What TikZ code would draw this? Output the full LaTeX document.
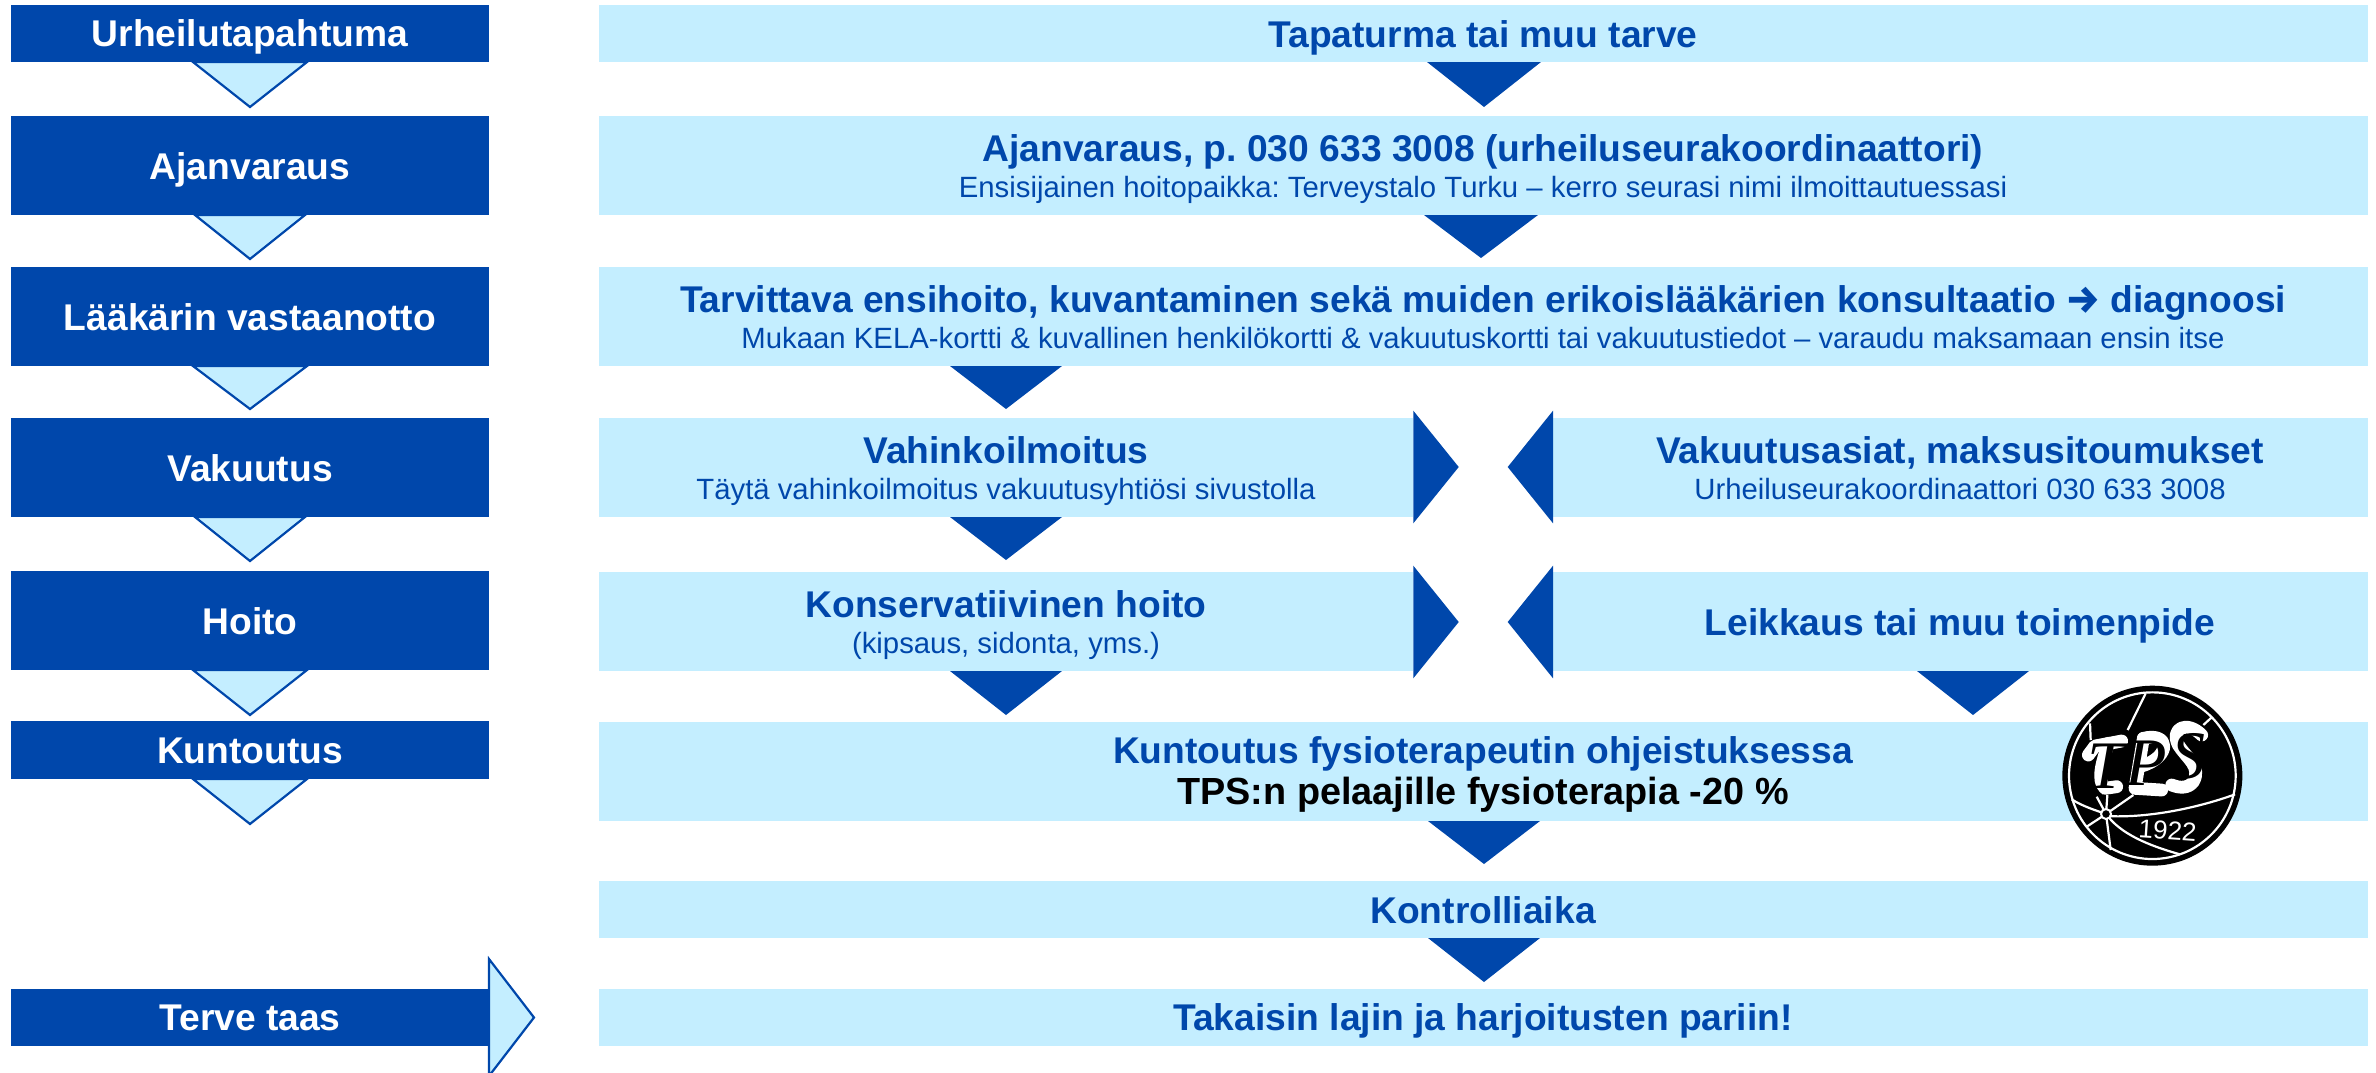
\documentclass[tikz,border=0pt]{standalone}
\usepackage{fontspec}
\setmainfont{Liberation Sans}
\newfontfamily\logothin{Liberation Serif Italic}
\newfontfamily\arrowfont{Fira Sans Bold}
\definecolor{tdark}{HTML}{0047AB}
\definecolor{tlight}{HTML}{C4EEFF}
\newcommand{\bandbox}[6]{\node[#6] (#1) at ({(#2+#4)/2},{(#3+#5)/2}) [minimum width={(#4-#2)*0.5pt},minimum height={(#5-#3)*0.5pt}] {};}
\newcommand{\arrowdown}[5]{\path[#5] (#1-#3,#2) -- (#1+#3,#2) -- (#1,#4) -- cycle;}
\tikzset{
  darkbox/.style={fill=tdark,draw=none,inner sep=0pt,outer sep=0pt},
  lightbox/.style={fill=tlight,draw=none,inner sep=0pt,outer sep=0pt},
  darktri/.style={fill=tdark},
  lighttri/.style={fill=tlight,draw=tdark,line width=1.1pt,line join=miter},
  lefttext/.style={anchor=base,inner sep=0pt,text=white,font=\fontsize{18.6}{22}\selectfont\bfseries},
  headtext/.style={anchor=base,inner sep=0pt,text=tdark,font=\fontsize{18.6}{22}\selectfont\bfseries},
  subtext/.style={anchor=base,inner sep=0pt,text=tdark,font=\fontsize{14.66}{16}\selectfont},
  blacktext/.style={anchor=base,inner sep=0pt,text=black,font=\fontsize{18.9}{22}\selectfont\bfseries},
  logoline/.style={white,line width=1.1pt},
  logoletter/.style={white,line width=6.4pt,line cap=round,line join=round},
  logotext/.style={text=black,font=\logothin\fontsize{34}{40}\selectfont,inner sep=0pt},
}
\frenchspacing
\begin{document}
\begin{tikzpicture}[x=0.5pt,y=-0.5pt]
\useasboundingbox (0,0) rectangle (2376,1072);
% left column arrows
\arrowdown{250}{62}{57}{107}{lighttri}
\arrowdown{250}{215}{55}{259}{lighttri}
\arrowdown{250}{366}{57}{409}{lighttri}
\arrowdown{250}{517}{55}{561}{lighttri}
\arrowdown{250}{670}{57}{715}{lighttri}
\arrowdown{250}{779}{57}{824}{lighttri}
% left column boxes
\bandbox{l1}{11}{5}{489}{62}{darkbox}
\bandbox{l2}{11}{116}{489}{215}{darkbox}
\bandbox{l3}{11}{267}{489}{366}{darkbox}
\bandbox{l4}{11}{418}{489}{517}{darkbox}
\bandbox{l5}{11}{571}{489}{670}{darkbox}
\bandbox{l6}{11}{721}{489}{779}{darkbox}
\bandbox{l7}{11}{989}{489}{1046}{darkbox}
\path[lighttri] (489,959) -- (534,1017.5) -- (489,1076) -- cycle;
\node[lefttext] (lt1) at (250,46.5) {Urheilutapahtuma};
\node[lefttext] (lt2) at (250,179) {Ajanvaraus};
\node[lefttext] (lt3) at (250,330.5) {Lääkärin vastaanotto};
\node[lefttext] (lt4) at (250,481) {Vakuutus};
\node[lefttext] (lt5) at (250,634) {Hoito};
\node[lefttext] (lt6) at (250,763) {Kuntoutus};
\node[lefttext] (lt7) at (250,1030.5) {Terve taas};
% right column bands
\bandbox{r1}{598.5}{5}{2368}{62}{lightbox}
\bandbox{r2}{598.5}{116}{2368}{215}{lightbox}
\bandbox{r3}{598.5}{267}{2368}{366}{lightbox}
\bandbox{r4a}{598.5}{418}{1413}{517}{lightbox}
\bandbox{r4b}{1553}{418}{2368}{517}{lightbox}
\bandbox{r5a}{598.5}{572}{1413}{671}{lightbox}
\bandbox{r5b}{1553}{572}{2368}{671}{lightbox}
\bandbox{r6}{598.5}{722}{2368}{821}{lightbox}
\bandbox{r7}{598.5}{881}{2368}{938}{lightbox}
\bandbox{r8}{598.5}{989}{2368}{1046}{lightbox}
% right column arrows
\arrowdown{1484}{62}{57}{107}{darktri}
\arrowdown{1481}{215}{57}{258}{darktri}
\arrowdown{1006}{366}{56}{409}{darktri}
\arrowdown{1006}{517}{56}{560}{darktri}
\arrowdown{1006}{671}{56}{715}{darktri}
\arrowdown{1973}{671}{56}{715}{darktri}
\arrowdown{1484}{821}{56}{864}{darktri}
\arrowdown{1484}{938}{56}{982}{darktri}
\path[darktri] (1413.3,410.7) -- (1458.7,467) -- (1413.3,523.3) -- cycle;
\path[darktri] (1553,410.7) -- (1507.7,467) -- (1553,523.3) -- cycle;
\path[darktri] (1413.3,565.7) -- (1458.7,622) -- (1413.3,678.3) -- cycle;
\path[darktri] (1553,565.7) -- (1507.7,622) -- (1553,678.3) -- cycle;
% right column text
\node[headtext] (rt1) at (1483,47) {Tapaturma tai muu tarve};
\node[headtext] (rt2) at (1483,161) {Ajanvaraus, p. 030 633 3008 (urheiluseurakoordinaattori)};
\node[subtext] (rs2) at (1483,197) {Ensisijainen hoitopaikka: Terveystalo Turku – kerro seurasi nimi ilmoittautuessasi};
\node[headtext] (rt3) at (1483,312) {Tarvittava ensihoito, kuvantaminen sekä muiden erikoislääkärien konsultaatio {\arrowfont →} diagnoosi};
\node[subtext] (rs3) at (1483,348) {Mukaan KELA-kortti \& kuvallinen henkilökortti \& vakuutuskortti tai vakuutustiedot – varaudu maksamaan ensin itse};
\node[headtext] (rt4a) at (1006,463) {Vahinkoilmoitus};
\node[subtext] (rs4a) at (1006,499) {Täytä vahinkoilmoitus vakuutusyhtiösi sivustolla};
\node[headtext] (rt4b) at (1960,463) {Vakuutusasiat, maksusitoumukset};
\node[subtext] (rs4b) at (1960,499) {Urheiluseurakoordinaattori 030 633 3008};
\node[headtext] (rt5a) at (1006,617) {Konservatiivinen hoito};
\node[subtext] (rs5a) at (1006,653) {(kipsaus, sidonta, yms.)};
\node[headtext] (rt5b) at (1960,635) {Leikkaus tai muu toimenpide};
\node[headtext] (rt6) at (1483,763) {Kuntoutus fysioterapeutin ohjeistuksessa};
\node[blacktext] (rs6) at (1483,804) {TPS:n pelaajille fysioterapia -20 \%};
\node[headtext] (rt7) at (1483,923) {Kontrolliaika};
\node[headtext] (rt8) at (1483,1030.5) {Takaisin lajin ja harjoitusten pariin!};
% logo, in units of a third of a pixel from (1980,660)
\begin{scope}[shift={(1980,660)},x=0.16667pt,y=-0.16667pt]
\node[circle,fill=black,inner sep=0pt,minimum size=90pt] (logo) at (517,347) {};
\draw[logoline] (517,347) circle (250);
\begin{scope}[logoline]
\draw (497,100) -- (443,210);
\draw (330,190) -- (332,240);
\draw (695,172) -- (670,195);
\draw (275,418) .. controls (310,440) and (345,450) .. (378,462);
\draw (378,462) .. controls (420,520) and (500,555) .. (600,583);
\draw (378,468) .. controls (500,475) and (650,445) .. (765,403);
\draw (378,462) -- (350,410);
\draw (378,462) -- (382,405);
\draw (378,462) -- (460,405);
\draw (378,462) -- (392,570);
\draw (378,462) -- (320,500);
\end{scope}
\node[circle,fill=black,draw=white,line width=1pt,inner sep=0pt,minimum size=5pt] (hub) at (378,462) {};
% white silhouette of the letters
\draw[logoletter] (325,285) -- (345,258) -- (425,243);
\draw[logoletter] (385,250) .. controls (365,310) and (350,360) .. (375,385) -- (410,380);
\draw[logoletter] (490,235) -- (465,385) -- (545,390);
\draw[logoletter] (490,235) .. controls (570,215) and (575,290) .. (485,318);
\draw[logoletter] (665,225) .. controls (620,180) and (570,205) .. (595,255) .. controls (620,295) and (665,320) .. (640,365) .. controls (625,385) and (600,385) .. (575,375);
\node[logotext] (lettert) at (378,318) {T};
\node[logotext] (letterp) at (500,310) {P};
\node[logotext] (letters) at (625,288) {S};
\node[text=white,font=\fontsize{13}{16}\selectfont,rotate=-4,inner sep=0pt] (year) at (563,513) {1922};
\end{scope}
\end{tikzpicture}
\end{document}
